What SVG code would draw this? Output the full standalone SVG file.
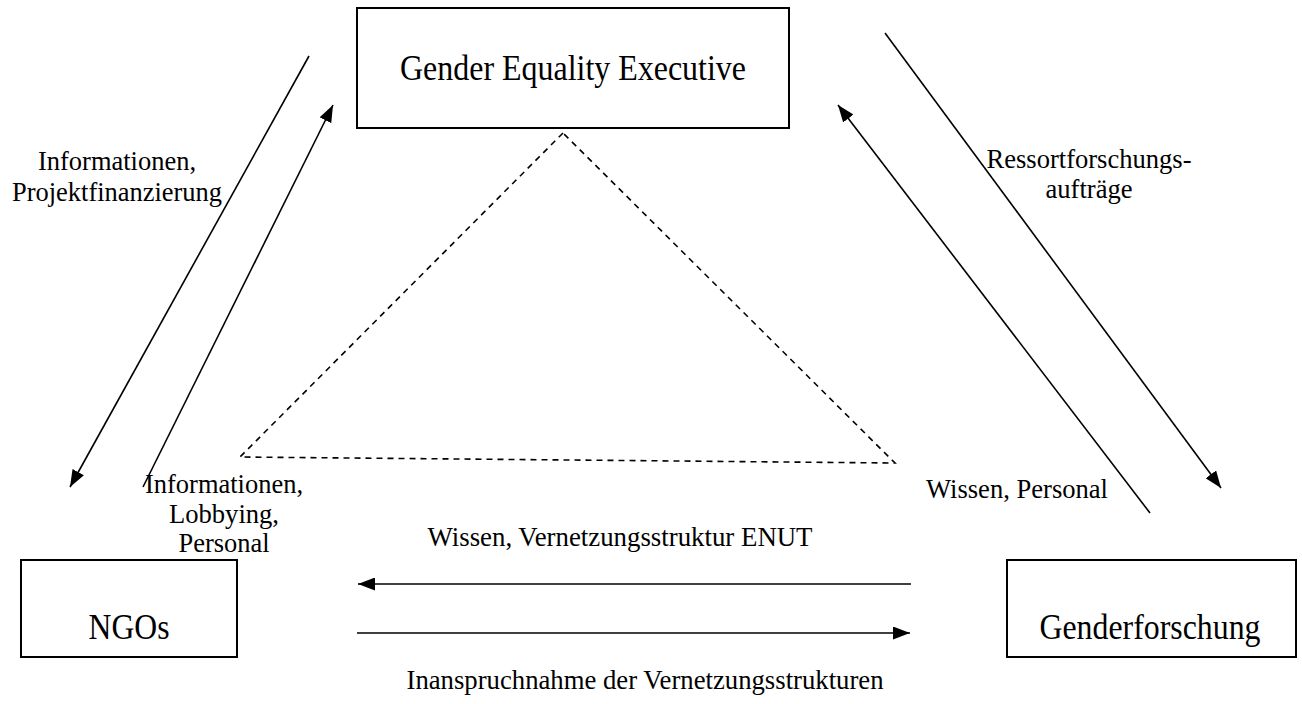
<svg xmlns="http://www.w3.org/2000/svg" width="1302" height="704" viewBox="0 0 1302 704">
<defs>
<marker id="ah" viewBox="0 0 17 13" refX="17" refY="6.5" markerWidth="17" markerHeight="13" markerUnits="userSpaceOnUse" orient="auto">
<path d="M0,0 L17,6.5 L0,13 Z" fill="#000"/>
</marker>
<style>
.box{fill:#fff;stroke:#000;stroke-width:2}
.lbl{font-family:"Liberation Serif","Times New Roman",serif;font-size:36px;fill:#000;text-anchor:middle}
.el{font-family:"Liberation Serif","Times New Roman",serif;font-size:27.5px;fill:#000;text-anchor:middle}
.arr{stroke:#000;stroke-width:1.6;fill:none;marker-end:url(#ah)}
.dash{stroke:#000;stroke-width:1.6;fill:none;stroke-dasharray:6,5}
</style>
</defs>
<rect width="1302" height="704" fill="#fff"/>
<g id="connectors">
<path class="dash" d="M563,133 L240,457 L895,463 Z"/>
<line class="arr" x1="309" y1="56" x2="70" y2="487"/>
<line class="arr" x1="143" y1="487" x2="333" y2="105"/>
<line class="arr" x1="885" y1="33" x2="1221" y2="488"/>
<line class="arr" x1="1150" y1="513" x2="838" y2="105"/>
<line class="arr" x1="911" y1="584" x2="358" y2="584"/>
<line class="arr" x1="357" y1="633" x2="910" y2="633"/>
<text class="el" x="117" y="170" textLength="158" lengthAdjust="spacingAndGlyphs">Informationen,</text>
<text class="el" x="117" y="201" textLength="210" lengthAdjust="spacingAndGlyphs">Projektfinanzierung</text>
<text class="el" x="1089" y="168" textLength="205" lengthAdjust="spacingAndGlyphs">Ressortforschungs-</text>
<text class="el" x="1089" y="198" textLength="87" lengthAdjust="spacingAndGlyphs">aufträge</text>
<text class="el" x="224" y="493" textLength="158" lengthAdjust="spacingAndGlyphs">Informationen,</text>
<text class="el" x="224" y="523" textLength="110" lengthAdjust="spacingAndGlyphs">Lobbying,</text>
<text class="el" x="224" y="552" textLength="91" lengthAdjust="spacingAndGlyphs">Personal</text>
<text class="el" x="1017" y="498" textLength="182" lengthAdjust="spacingAndGlyphs">Wissen, Personal</text>
<text class="el" x="620" y="546" textLength="385" lengthAdjust="spacingAndGlyphs">Wissen, Vernetzungsstruktur ENUT</text>
<text class="el" x="645" y="689" textLength="477" lengthAdjust="spacingAndGlyphs">Inanspruchnahme der Vernetzungsstrukturen</text>
</g>
<g id="gee">
<rect class="box" x="357" y="8" width="432" height="120"/>
<text class="lbl" x="573" y="80" textLength="346" lengthAdjust="spacingAndGlyphs">Gender Equality Executive</text>
</g>
<g id="ngos">
<rect class="box" x="21" y="560" width="216" height="97"/>
<text class="lbl" x="129" y="639" textLength="81" lengthAdjust="spacingAndGlyphs">NGOs</text>
</g>
<g id="genderforschung">
<rect class="box" x="1007" y="560" width="289" height="97"/>
<text class="lbl" x="1150" y="639" textLength="221" lengthAdjust="spacingAndGlyphs">Genderforschung</text>
</g>
</svg>
